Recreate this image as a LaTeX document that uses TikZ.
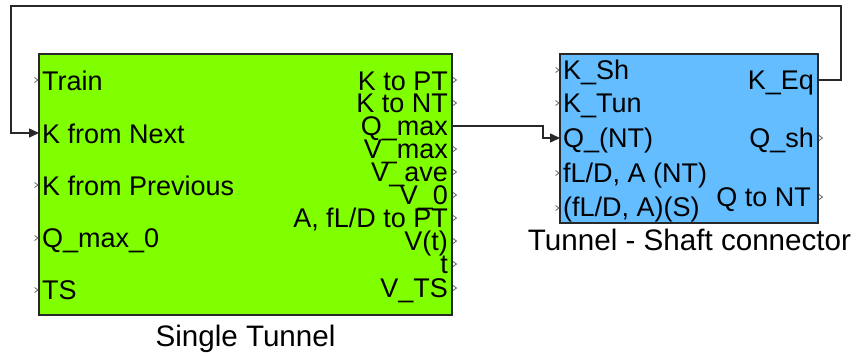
\documentclass[tikz,border=0pt]{standalone}
\usepackage{fontspec}
\setmainfont{Liberation Sans}
\usetikzlibrary{arrows.meta}
\definecolor{grn}{RGB}{128,255,0}
\definecolor{blu}{RGB}{99,189,255}
\definecolor{ln}{RGB}{40,40,40}
\tikzset{
  blockbox/.style={draw=ln, line width=1.5pt, inner sep=0pt, outer sep=0pt, anchor=north west},
  lbl/.style={inner sep=0pt, font=\fontsize{27}{28}\selectfont, text=black},
  captext/.style={inner sep=0pt, font=\fontsize{29.6}{30}\selectfont, text=black, anchor=base},
  wire/.style={draw=ln, line width=1.5pt},
  portmark/.style={draw=black!60, line width=0.8pt},
  tiparrow/.style={-{Triangle[length=10pt,width=9pt]}}
}
\begin{document}
\begin{tikzpicture}[x=1pt,y=-1pt]
\useasboundingbox (0,0) rectangle (858,356);
% blocks
\node[blockbox, fill=grn, minimum width=413pt, minimum height=261pt] (st) at (39,54) {};
\node[blockbox, fill=blu, minimum width=258pt, minimum height=169pt] (tsc) at (560,54) {};
% captions
\node[captext] (stcap) at (245.5,346) {Single Tunnel};
\node[captext] (tsccap) at (689.5,250) {Tunnel - Shaft connector};
% green left labels
\node[lbl, anchor=base west] (train) at (42,90) {Train};
\node[lbl, anchor=base west] (kfn) at (42,143) {K from Next};
\node[lbl, anchor=base west] (kfp) at (42,195) {K from Previous};
\node[lbl, anchor=base west] (qm0) at (42,247.5) {Q\_max\_0};
\node[lbl, anchor=base west] (ts) at (42,299.5) {TS};
% green right labels
\node[lbl, anchor=base east] (ktpt) at (448,90) {K to PT};
\node[lbl, anchor=base east] (ktnt) at (448,112.5) {K to NT};
\node[lbl, anchor=base east] (qmax) at (448,135.5) {Q\_max};
\node[lbl, anchor=base east] (vmax) at (448,158) {V\_max};
\node[lbl, anchor=base east] (vave) at (448,181) {V\_ave};
\node[lbl, anchor=base east] (vz) at (448,204) {V\_0};
\node[lbl, anchor=base east] (afl) at (448,227.5) {A, fL/D to PT};
\node[lbl, anchor=base east] (vt) at (448,250.5) {V(t)};
\node[lbl, anchor=base east] (tt) at (448,273) {t};
\node[lbl, anchor=base east] (vts) at (448,297.5) {V\_TS};
% blue labels
\node[lbl, anchor=base west] (ksh) at (563,79) {K\_Sh};
\node[lbl, anchor=base west] (ktun) at (563,112) {K\_Tun};
\node[lbl, anchor=base west] (qnt) at (563,147) {Q\_(NT)};
\node[lbl, anchor=base west] (flnt) at (563,182) {fL/D, A (NT)};
\node[lbl, anchor=base west] (fls) at (563,216.5) {(fL/D, A)(S)};
\node[lbl, anchor=base east] (keq) at (814,89.5) {K\_Eq};
\node[lbl, anchor=base east] (qsh) at (814,147) {Q\_sh};
\node[lbl, anchor=base east] (qtnt) at (811,206) {Q to NT};
% port coordinates
\coordinate (pKfn) at (39,133);
\coordinate (pQmax) at (452,126);
\coordinate (pQnt) at (560,138);
\coordinate (pKeq) at (818,80);
\coordinate (c1) at (543,126);
\coordinate (c2) at (841,80);
\coordinate (c3) at (841,6);
\coordinate (c4) at (11,6);
\coordinate (c5) at (11,133);
% connectors
\draw[wire, tiparrow] (pKeq) -- (c2) -- (c3) -- (c4) -- (c5) -- (pKfn);
\draw[wire, tiparrow] (pQmax) -- (c1) |- (pQnt);
% input port marks
\foreach \px/\py in {39/80, 39/185, 39/238, 39/290, 560/70, 560/103, 560/173, 560/208}
  \draw[portmark] (\px,\py) ++(-4.5,-2.5) -- ++(3.5,2.5) -- ++(-3.5,2.5);
% output port marks
\foreach \px/\py in {452/80, 452/103, 452/149, 452/172, 452/195, 452/218, 452/241, 452/264, 452/288, 818/138, 818/197}
  \draw[portmark] (\px,\py) ++(1,-2.5) -- ++(3.5,2.5) -- ++(-3.5,2.5);
\end{tikzpicture}
\end{document}
